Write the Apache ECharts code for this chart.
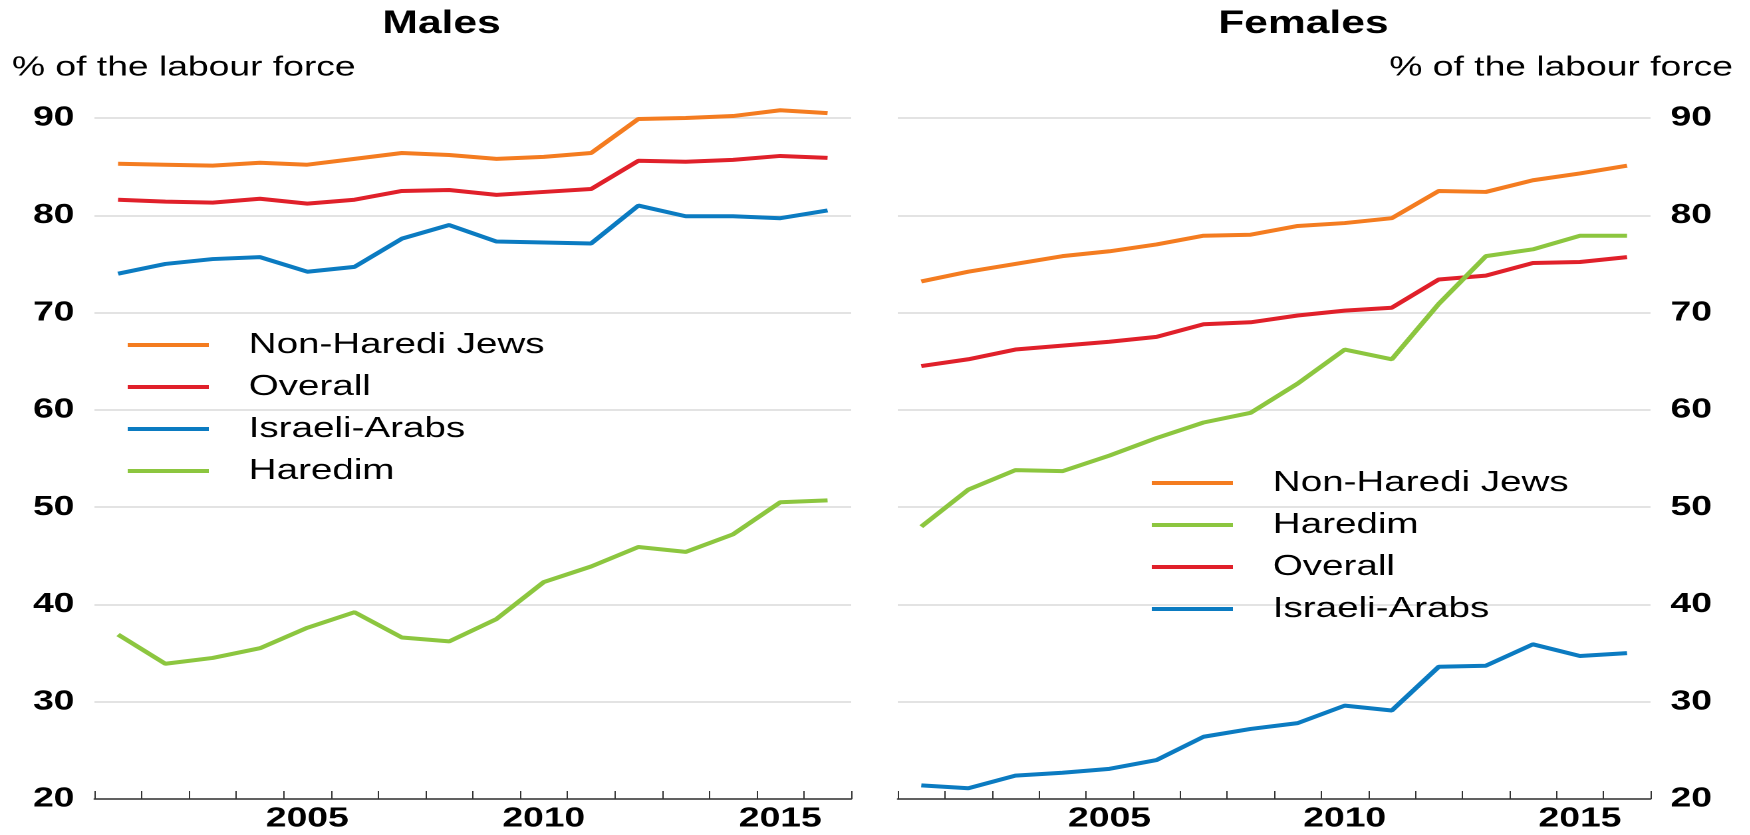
<!DOCTYPE html>
<html>
<head>
<meta charset="utf-8">
<script src="https://cdn.jsdelivr.net/npm/echarts@6/dist/echarts.min.js"></script>
<style>
  html, body { margin: 0; padding: 0; background: #fff; overflow: hidden; }
  /* the source picture is stretched sideways, so draw narrow and widen */
  #main { width: 1316px; height: 835px; transform: scaleX(1.33); transform-origin: 0 0; }
</style>
</head>
<body>
<div id="main"></div>
<script>
const years = ['2001', '2002', '2003', '2004', '2005', '2006', '2007', '2008',
  '2009', '2010', '2011', '2012', '2013', '2014', '2015', '2016']

// Males, % of the labour force
const maleNonHaredi = [85.3, 85.2, 85.1, 85.4, 85.2, 85.8, 86.4, 86.2, 85.8, 86.0, 86.4, 89.9, 90.0, 90.2, 90.8, 90.5]
const maleOverall = [81.6, 81.4, 81.3, 81.7, 81.2, 81.6, 82.5, 82.6, 82.1, 82.4, 82.7, 85.6, 85.5, 85.7, 86.1, 85.9]
const maleArabs = [74.0, 75.0, 75.5, 75.7, 74.2, 74.7, 77.6, 79.0, 77.3, 77.2, 77.1, 81.0, 79.9, 79.9, 79.7, 80.5]
const maleHaredim = [36.9, 33.9, 34.5, 35.5, 37.6, 39.2, 36.6, 36.2, 38.5, 42.3, 43.9, 45.9, 45.4, 47.2, 50.5, 50.7]

// Females, % of the labour force
const femNonHaredi = [73.2, 74.2, 75.0, 75.8, 76.3, 77.0, 77.9, 78.0, 78.9, 79.2, 79.7, 82.5, 82.4, 83.6, 84.3, 85.1]
const femOverall = [64.5, 65.2, 66.2, 66.6, 67.0, 67.5, 68.8, 69.0, 69.7, 70.2, 70.5, 73.4, 73.8, 75.1, 75.2, 75.7]
const femHaredim = [48.0, 51.8, 53.8, 53.7, 55.3, 57.1, 58.7, 59.7, 62.7, 66.2, 65.2, 70.9, 75.8, 76.5, 77.9, 77.9]
const femArabs = [21.4, 21.1, 22.4, 22.7, 23.1, 24.0, 26.4, 27.2, 27.8, 29.6, 29.1, 33.6, 33.7, 35.9, 34.7, 35.0]

const yTicks = { min: 20, max: 90, interval: 10 }

const FONT = '"Liberation Sans", Arial, sans-serif'
const colors = {
  'Non-Haredi Jews': '#F47C20',
  'Overall': '#E0202A',
  'Israeli-Arabs': '#0B7BC1',
  'Haredim': '#8CC63F'
}

function xAxisFor(gridIndex) {
  return {
    type: 'category',
    gridIndex: gridIndex,
    data: years,
    boundaryGap: true,
    axisLine: { lineStyle: { color: '#333', width: 1.5 } },
    axisTick: { show: true, interval: 0, inside: true, length: 8, lineStyle: { color: '#333', width: 1 } },
    axisLabel: {
      interval: function (idx, val) { return Number(val) % 5 === 0 },
      color: '#000', fontSize: 28, fontWeight: 'bold', fontFamily: FONT, margin: 6
    },
    splitLine: { show: false }
  }
}

function yAxisFor(gridIndex, position) {
  return {
    type: 'value',
    gridIndex: gridIndex,
    position: position,
    min: yTicks.min,
    max: yTicks.max,
    interval: yTicks.interval,
    axisLine: { show: false },
    axisTick: { show: false },
    axisLabel: { color: '#000', fontSize: 28, fontWeight: 'bold', fontFamily: FONT, margin: 15 },
    splitLine: { lineStyle: { color: '#dadada', width: 1.5 } }
  }
}

function line(name, data, idx) {
  return {
    name: name,
    type: 'line',
    xAxisIndex: idx,
    yAxisIndex: idx,
    data: data,
    symbol: 'none',
    clip: false,
    lineStyle: { color: colors[name], width: 4 },
    itemStyle: { color: colors[name] },
    emphasis: { disabled: true }
  }
}

function legendAt(left, top, names) {
  return {
    orient: 'vertical',
    left: left,
    top: top,
    padding: 0,
    icon: 'rect',
    itemWidth: 61,
    itemHeight: 4,
    itemGap: 10,
    selectedMode: false,
    data: names,
    textStyle: { color: '#000', fontSize: 29, fontFamily: FONT, lineHeight: 32, padding: [0, 0, 0, 25] }
  }
}

const chart = echarts.init(document.getElementById('main'), null, { devicePixelRatio: 2 })

const option = {
  animation: false,
  grid: [
    { left: 71, top: 118, width: 569, height: 681 },
    { left: 675, top: 118, width: 566, height: 681 }
  ],
  xAxis: [xAxisFor(0), xAxisFor(1)],
  yAxis: [yAxisFor(0, 'left'), yAxisFor(1, 'right')],
  legend: [
    legendAt(96, 329, ['Non-Haredi Jews', 'Overall', 'Israeli-Arabs', 'Haredim']),
    legendAt(866, 467, ['Non-Haredi Jews', 'Haredim', 'Overall', 'Israeli-Arabs'])
  ],
  graphic: [
    { type: 'text', x: 332, y: 24, style: { text: 'Males', fill: '#000', font: 'bold 32px ' + FONT, textAlign: 'center', textVerticalAlign: 'middle' } },
    { type: 'text', x: 980, y: 24, style: { text: 'Females', fill: '#000', font: 'bold 32px ' + FONT, textAlign: 'center', textVerticalAlign: 'middle' } },
    { type: 'text', x: 9, y: 68, style: { text: '% of the labour force', fill: '#000', font: '28px ' + FONT, textAlign: 'left', textVerticalAlign: 'middle' } },
    { type: 'text', x: 1303, y: 68, style: { text: '% of the labour force', fill: '#000', font: '28px ' + FONT, textAlign: 'right', textVerticalAlign: 'middle' } }
  ],
  series: [
    line('Non-Haredi Jews', maleNonHaredi, 0),
    line('Overall', maleOverall, 0),
    line('Israeli-Arabs', maleArabs, 0),
    line('Haredim', maleHaredim, 0),
    line('Non-Haredi Jews', femNonHaredi, 1),
    line('Overall', femOverall, 1),
    line('Haredim', femHaredim, 1),
    line('Israeli-Arabs', femArabs, 1)
  ]
}

chart.setOption(option)
</script>
</body>
</html>
